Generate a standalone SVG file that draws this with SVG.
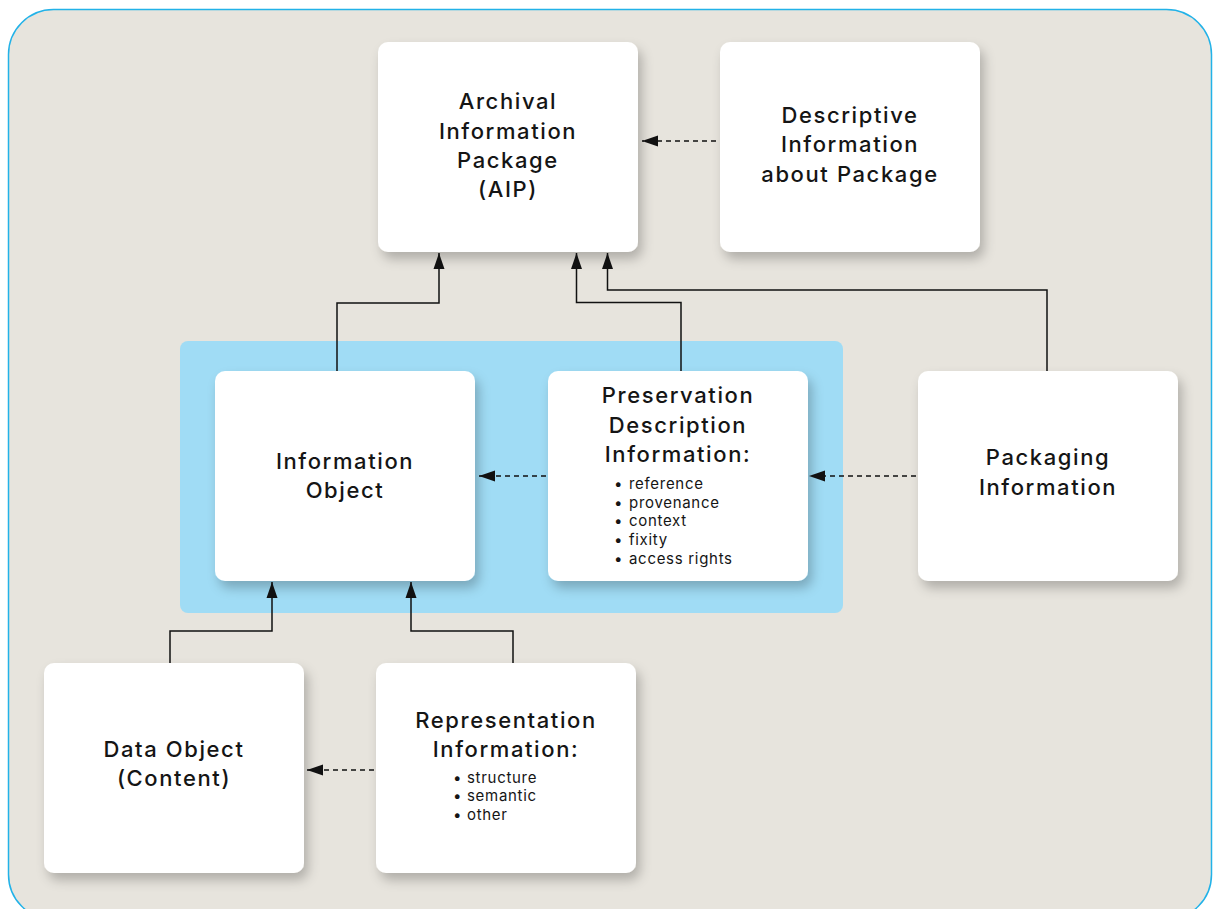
<svg xmlns="http://www.w3.org/2000/svg" width="1219" height="909" viewBox="0 0 1219 909">
  <defs>
    <filter id="shadow" x="-20%" y="-20%" width="140%" height="150%">
      <feDropShadow dx="4" dy="7" stdDeviation="6" flood-color="#000" flood-opacity="0.24"/>
    </filter>
    <marker id="arrow" viewBox="0 0 16 12" refX="16" refY="6" markerWidth="16" markerHeight="12" markerUnits="userSpaceOnUse" orient="auto">
      <path d="M0,0.5 L16,6 L0,11.5 Z" fill="#111"/>
    </marker>
    <style>
      .frame { fill: #e7e4dd; stroke: #22b2e8; stroke-width: 1.5; }
      .panel { fill: #a0dcf5; }
      .box { fill: #ffffff; filter: url(#shadow); }
      .title { font-family: Inter, "Liberation Sans", sans-serif; font-size: 22px; font-weight: 500; fill: #151515; text-anchor: middle; letter-spacing: 1.6px; }
      .item { font-family: Inter, "Liberation Sans", sans-serif; font-size: 15px; font-weight: 400; fill: #151515; letter-spacing: 0.7px; }
      .link { fill: none; stroke: #111; stroke-width: 1.5; marker-end: url(#arrow); }
      .dash { stroke-dasharray: 5 4; }
    </style>
  </defs>

  <!-- outer frame -->
  <rect class="frame" x="8.5" y="9.5" width="1203" height="910" rx="45"/>

  <!-- shaded grouping behind Information Object and PDI -->
  <rect class="panel" x="180" y="341" width="663" height="272" rx="8"/>

  <g id="aip">
    <rect class="box" x="378" y="42" width="260" height="210" rx="10"/>
    <text class="title" x="508" y="109">Archival</text>
    <text class="title" x="508" y="139">Information</text>
    <text class="title" x="508" y="168">Package</text>
    <text class="title" x="508" y="197">(AIP)</text>
  </g>

  <g id="descriptive-info">
    <rect class="box" x="720" y="42" width="260" height="210" rx="10"/>
    <text class="title" x="850" y="123">Descriptive</text>
    <text class="title" x="850" y="152">Information</text>
    <text class="title" x="850" y="182">about Package</text>
  </g>

  <g id="information-object">
    <rect class="box" x="215" y="371" width="260" height="210" rx="10"/>
    <text class="title" x="345" y="469">Information</text>
    <text class="title" x="345" y="498">Object</text>
  </g>

  <g id="pdi">
    <rect class="box" x="548" y="371" width="260" height="210" rx="10"/>
    <text class="title" x="678" y="403">Preservation</text>
    <text class="title" x="678" y="433">Description</text>
    <text class="title" x="678" y="462">Information:</text>
    <text class="item" x="614" y="489">•<tspan x="629">reference</tspan></text>
    <text class="item" x="614" y="508">•<tspan x="629">provenance</tspan></text>
    <text class="item" x="614" y="526">•<tspan x="629">context</tspan></text>
    <text class="item" x="614" y="545">•<tspan x="629">fixity</tspan></text>
    <text class="item" x="614" y="564">•<tspan x="629">access rights</tspan></text>
  </g>

  <g id="packaging-info">
    <rect class="box" x="918" y="371" width="260" height="210" rx="10"/>
    <text class="title" x="1048" y="465">Packaging</text>
    <text class="title" x="1048" y="495">Information</text>
  </g>

  <g id="data-object">
    <rect class="box" x="44" y="663" width="260" height="210" rx="10"/>
    <text class="title" x="174" y="757">Data Object</text>
    <text class="title" x="174" y="786">(Content)</text>
  </g>

  <g id="representation-info">
    <rect class="box" x="376" y="663" width="260" height="210" rx="10"/>
    <text class="title" x="506" y="728">Representation</text>
    <text class="title" x="506" y="757">Information:</text>
    <text class="item" x="453" y="783">•<tspan x="467">structure</tspan></text>
    <text class="item" x="453" y="801">•<tspan x="467">semantic</tspan></text>
    <text class="item" x="453" y="820">•<tspan x="467">other</tspan></text>
  </g>

  <g id="connectors">
    <path class="link" d="M337,371 V303 H439 V253"/>
    <path class="link" d="M681,371 V302.5 H576.5 V253"/>
    <path class="link" d="M1047,371 V290 H607.5 V253"/>
    <path class="link dash" d="M716,141 H642"/>
    <path class="link dash" d="M546,476 H479"/>
    <path class="link dash" d="M916,476 H809"/>
    <path class="link" d="M170,663 V631 H272 V582"/>
    <path class="link" d="M513,663 V631 H411 V582"/>
    <path class="link dash" d="M374,770 H307"/>
  </g>
</svg>
